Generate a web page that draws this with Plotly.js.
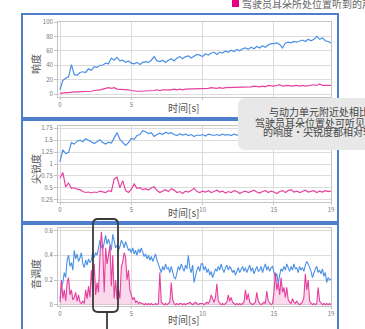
<!DOCTYPE html>
<html><head><meta charset="utf-8">
<script src="https://cdn.plot.ly/plotly-3.0.1.min.js"></script>
<style>html,body{margin:0;padding:0;background:#fff;overflow:hidden}#c{width:365px;height:329px}</style>
</head><body><div id="c"></div>
<script>
// ---- data (time step 0.2 s for loudness / sharpness, 0.1 s for tonality) ----
const xTickVals = [0, 5, 10, 15, 19];
const xTickText = ["0", "5", "10", "15", "19"];
const xTickTextTop = ["0", "5", "", "", ""];   // top panel: 10/15/19 hidden under title and note box
const loudTicks = [0, 20, 40, 60, 80, 100];
const sharpTicks = [0.25, 0.5, 0.75, 1, 1.25, 1.5, 1.75];
const sharpTickText = ["0.25", "0.5", "0.75", "1", "1.25", "1.5", "1.75"];
const tonalTicks = [0, 0.2, 0.4, 0.6];
const tonalTickText = ["0", "0.2", "0.4", "0.6"];

const loudPowerUnit = [
  6, 19, 22, 24, 41,   27, 26, 30, 31, 30,   35, 33, 38, 37, 40,   40, 43, 42, 50, 47,
  51, 46, 47, 44, 46,  43, 42, 44, 41, 44,   45, 44, 47, 52, 46,   45, 47, 44, 47, 49,
  46, 50, 52, 49, 52,  53, 50, 52, 55, 54,   52, 56, 54, 57, 58,   55, 58, 57, 60, 58,
  61, 59, 62, 60, 63,  64, 62, 65, 63, 66,   64, 67, 65, 68, 70,   70, 71, 69, 64, 71,
  72, 71, 73, 72, 74,  75, 73, 76, 74, 76,   80, 76, 78, 74, 73,   71];
const loudDriverEar = [
  1, 2, 2, 2, 3,   3, 3, 3, 4, 4,   4, 4, 5, 5, 6,   7, 8, 9, 8, 9,
  7, 7, 6, 6, 6,   5, 4, 4, 4, 4,   4, 4, 5, 5, 6,   5, 6, 6, 5, 6,
  7, 6, 7, 6, 7,   7, 7, 8, 7, 8,   7, 8, 8, 9, 8,   8, 9, 8, 9, 9,
  9, 10, 9, 9, 10, 10, 9, 10, 11, 10, 10, 11, 10, 12, 11, 11, 12, 13, 11, 12,
  12, 11, 12, 12, 11, 12, 11, 12, 12, 13, 12, 14, 12, 12, 13, 12];

const sharpPowerUnit = [
  1.05, 1.30, 1.22, 1.24, 1.45,  1.42, 1.48, 1.50, 1.47, 1.53,  1.50, 1.46, 1.43, 1.47, 1.51,
  1.45, 1.42, 1.46, 1.44, 1.55,  1.66, 1.52, 1.45, 1.39, 1.45,  1.54, 1.52, 1.60, 1.62, 1.70,
  1.68, 1.64, 1.66, 1.58, 1.62,  1.65, 1.62, 1.67, 1.64, 1.66,  1.62, 1.60, 1.64, 1.61, 1.63,
  1.60, 1.62, 1.58, 1.61, 1.60,  1.62, 1.59, 1.63, 1.61, 1.60,  1.62, 1.60, 1.63, 1.61, 1.62,
  1.60, 1.63, 1.61, 1.62, 1.60,  1.62, 1.61, 1.63, 1.60, 1.62,  1.64, 1.61, 1.63, 1.62, 1.65,
  1.63, 1.66, 1.64, 1.62, 1.65,  1.63, 1.66, 1.64, 1.67, 1.65,  1.68, 1.65, 1.67, 1.64, 1.66,
  1.68, 1.65, 1.67, 1.66, 1.64,  1.65];
const sharpDriverEar = [
  0.70, 0.82, 0.52, 0.60, 0.49,  0.50, 0.47, 0.46, 0.42, 0.40,  0.41, 0.39, 0.41, 0.40, 0.43,
  0.41, 0.40, 0.44, 0.42, 0.68,  0.72, 0.50, 0.65, 0.44, 0.40,  0.47, 0.58, 0.49, 0.50, 0.46,
  0.48, 0.45, 0.50, 0.52, 0.44,  0.40, 0.43, 0.46, 0.42, 0.48,  0.45, 0.40, 0.42, 0.38, 0.43,
  0.41, 0.44, 0.49, 0.42, 0.40,  0.43, 0.41, 0.44, 0.40, 0.42,  0.45, 0.41, 0.43, 0.39, 0.42,
  0.40, 0.44, 0.42, 0.38, 0.41,  0.43, 0.40, 0.42, 0.45, 0.41,  0.39, 0.42, 0.44, 0.40, 0.43,
  0.41, 0.38, 0.42, 0.44, 0.40,  0.44, 0.46, 0.41, 0.43, 0.40,  0.42, 0.45, 0.41, 0.43, 0.44,
  0.40, 0.43, 0.41, 0.44, 0.42,  0.43];

const tonalPowerUnit = [
  0.05, 0.14, 0.18, 0.26, 0.22, 0.36, 0.40, 0.31, 0.34, 0.28,
  0.44, 0.37, 0.41, 0.35, 0.38, 0.42, 0.33, 0.30, 0.36, 0.32,
  0.37, 0.34, 0.36, 0.43, 0.38, 0.42, 0.40, 0.46, 0.52, 0.47,
  0.45, 0.50, 0.56, 0.49, 0.53, 0.49, 0.44, 0.57, 0.51, 0.46,
  0.48, 0.44, 0.47, 0.52, 0.50, 0.46, 0.51, 0.48, 0.44, 0.45,
  0.42, 0.46, 0.41, 0.44, 0.40, 0.45, 0.42, 0.46, 0.43, 0.39,
  0.41, 0.37, 0.40, 0.36, 0.39, 0.35, 0.38, 0.41, 0.36, 0.33,
  0.30, 0.26, 0.31, 0.28, 0.33, 0.29, 0.30, 0.26, 0.31, 0.27,
  0.22, 0.21, 0.27, 0.31, 0.28, 0.33, 0.30, 0.27, 0.32, 0.29,
  0.40, 0.30, 0.26, 0.32, 0.18, 0.24, 0.28, 0.31, 0.27, 0.33,
  0.33, 0.28, 0.31, 0.26, 0.29, 0.24, 0.27, 0.22, 0.26, 0.29,
  0.27, 0.31, 0.28, 0.33, 0.29, 0.26, 0.30, 0.32, 0.28, 0.31,
  0.29, 0.26, 0.28, 0.24, 0.27, 0.30, 0.26, 0.29, 0.31, 0.27,
  0.30, 0.26, 0.29, 0.32, 0.27, 0.30, 0.25, 0.28, 0.31, 0.27,
  0.28, 0.31, 0.26, 0.30, 0.33, 0.28, 0.31, 0.27, 0.30, 0.31,
  0.27, 0.22, 0.25, 0.17, 0.24, 0.29, 0.27, 0.31, 0.28, 0.33,
  0.30, 0.27, 0.31, 0.28, 0.33, 0.29, 0.30, 0.26, 0.31, 0.28,
  0.30, 0.27, 0.32, 0.35, 0.33, 0.30, 0.27, 0.22, 0.26, 0.29,
  0.31, 0.26, 0.28, 0.25, 0.29, 0.23, 0.26, 0.18, 0.22, 0.20,
  0.21];
const tonalDriverEar = [
  0.02, 0.20, 0.05, 0.12, 0.03, 0.18, 0.22, 0.08, 0.12, 0.04,
  0.06, 0.10, 0.03, 0.08, 0.02, 0.01, 0.03, 0.01, 0.12, 0.05,
  0.15, 0.06, 0.28, 0.12, 0.33, 0.08, 0.18, 0.10, 0.40, 0.59,
  0.45, 0.10, 0.46, 0.33, 0.40, 0.48, 0.15, 0.40, 0.05, 0.20,
  0.04, 0.12, 0.05, 0.30, 0.35, 0.42, 0.38, 0.20, 0.28, 0.12,
  0.08, 0.04, 0.06, 0.02, 0.03, 0.01, 0.02, 0.01, 0.01, 0.00,
  0.01, 0.00, 0.01, 0.00, 0.01, 0.00, 0.00, 0.01, 0.00, 0.01,
  0.26, 0.02, 0.01, 0.00, 0.01, 0.00, 0.01, 0.02, 0.18, 0.04,
  0.01, 0.00, 0.01, 0.00, 0.01, 0.01, 0.00, 0.01, 0.00, 0.01,
  0.01, 0.02, 0.01, 0.00, 0.01, 0.02, 0.01, 0.00, 0.01, 0.01,
  0.01, 0.00, 0.01, 0.02, 0.01, 0.03, 0.08, 0.04, 0.02, 0.06,
  0.17, 0.03, 0.01, 0.00, 0.01, 0.00, 0.01, 0.02, 0.08, 0.03,
  0.06, 0.02, 0.01, 0.00, 0.01, 0.00, 0.01, 0.00, 0.01, 0.02,
  0.12, 0.04, 0.09, 0.02, 0.01, 0.00, 0.01, 0.02, 0.10, 0.03,
  0.01, 0.00, 0.01, 0.02, 0.01, 0.11, 0.03, 0.01, 0.00, 0.01,
  0.10, 0.26, 0.12, 0.18, 0.08, 0.22, 0.10, 0.14, 0.06, 0.14,
  0.04, 0.02, 0.01, 0.05, 0.02, 0.01, 0.03, 0.01, 0.00, 0.01,
  0.02, 0.06, 0.25, 0.12, 0.20, 0.03, 0.01, 0.00, 0.01, 0.00,
  0.01, 0.14, 0.03, 0.01, 0.00, 0.01, 0.00, 0.01, 0.00, 0.01,
  0.00];

const timeTitle = "时间[s]";
const yTitles = ["响度", "尖锐度", "音调度"];
const legendText = "驾驶员耳朵所处位置听到的声";
const noteLines = ["与动力单元附近处相比", "驾驶员耳朵位置处可听见的", "的响度・尖锐度都相对较"];

// ---- build ----
const W = 365, H = 329;
const PX = x => x / W, PY = y => 1 - y / H;
const timeAxis = (arr, step) => arr.map((_, i) => Math.round(i * step * 10) / 10);
const BLUE = '#4a90e6', PINK = '#e6409e';

const traces = [
  {x: timeAxis(loudPowerUnit, 0.2), y: loudPowerUnit, xaxis: 'x', yaxis: 'y', mode: 'lines', line: {color: BLUE, width: 1.2}},
  {x: timeAxis(loudDriverEar, 0.2), y: loudDriverEar, xaxis: 'x', yaxis: 'y', mode: 'lines', line: {color: PINK, width: 1.2}},
  {x: timeAxis(sharpPowerUnit, 0.2), y: sharpPowerUnit, xaxis: 'x2', yaxis: 'y2', mode: 'lines', line: {color: BLUE, width: 1.2}},
  {x: timeAxis(sharpDriverEar, 0.2), y: sharpDriverEar, xaxis: 'x2', yaxis: 'y2', mode: 'lines', line: {color: PINK, width: 1.2}},
  {x: timeAxis(tonalPowerUnit, 0.1), y: tonalPowerUnit, xaxis: 'x3', yaxis: 'y3', mode: 'lines', line: {color: BLUE, width: 1.1}},
  {x: timeAxis(tonalDriverEar, 0.1), y: tonalDriverEar, xaxis: 'x3', yaxis: 'y3', mode: 'lines', line: {color: PINK, width: 1.1},
   fill: 'tozeroy', fillcolor: 'rgba(230,64,158,0.2)'}
];

const xDom = [PX(58), PX(331)];
const xBase = {domain: xDom, range: [-0.14, 19], tickvals: xTickVals, ticktext: xTickText,
  showgrid: true, gridcolor: '#dcdcdc', gridwidth: 1, zeroline: false,
  showline: true, mirror: true, linecolor: '#c4c4c4', linewidth: 1,
  ticks: 'outside', ticklen: 2, tickcolor: '#c4c4c4', tickfont: {size: 6, color: '#777'}, fixedrange: true};
const yBase = {showgrid: true, gridcolor: '#dcdcdc', gridwidth: 1, zeroline: false,
  showline: true, mirror: true, linecolor: '#c4c4c4', linewidth: 1,
  ticks: 'outside', ticklen: 3, tickcolor: '#c4c4c4', tickfont: {size: 6, color: '#777'}, fixedrange: true};

function rr(x0, y0, x1, y1, r) {
  const P = (x, y) => PX(x) + ',' + PY(y);
  return 'M' + P(x0 + r, y0) + ' L' + P(x1 - r, y0) + ' Q' + P(x1, y0) + ' ' + P(x1, y0 + r) +
    ' L' + P(x1, y1 - r) + ' Q' + P(x1, y1) + ' ' + P(x1 - r, y1) +
    ' L' + P(x0 + r, y1) + ' Q' + P(x0, y1) + ' ' + P(x0, y1 - r) +
    ' L' + P(x0, y0 + r) + ' Q' + P(x0, y0) + ' ' + P(x0 + r, y0) + ' Z';
}
const box = (y0, y1) => ({type: 'rect', xref: 'paper', yref: 'paper', x0: PX(22), x1: PX(338), y0: PY(y1), y1: PY(y0),
  line: {color: '#4d7fcc', width: 2}});

const shapes = [
  box(14, 118), box(120, 222), box(224, 345),
  {type: 'rect', xref: 'paper', yref: 'paper', x0: PX(232), x1: PX(239), y0: PY(7), y1: PY(-2), fillcolor: '#e4007f', line: {width: 0}},
  {type: 'path', xref: 'paper', yref: 'paper', path: rr(238, 98, 380, 150, 8), fillcolor: '#e8e8e8', line: {width: 0}},
  {type: 'path', xref: 'paper', yref: 'paper', path: rr(93, 219, 118, 312, 5), line: {color: '#3a3a3a', width: 1.8}},
  {type: 'line', xref: 'paper', yref: 'paper', x0: PX(107), x1: PX(107), y0: PY(312), y1: PY(335), line: {color: '#3a3a3a', width: 1.8}}
];

const ann = (text, x, y, opts) => Object.assign({text, x: PX(x), y: PY(y), xref: 'paper', yref: 'paper', showarrow: false,
  xanchor: 'center', yanchor: 'middle', borderpad: 0, font: {size: 10, color: '#555'}}, opts || {});
const annotations = [
  ann(timeTitle, 183, 108), ann(timeTitle, 183, 212), ann(timeTitle, 183, 319),
  ann(yTitles[0], 35, 64, {textangle: -90}),
  ann(yTitles[1], 35, 169, {textangle: -90}),
  ann(yTitles[2], 35, 274, {textangle: -90}),
  ann(legendText, 241, 3, {xanchor: 'left', font: {size: 10, color: '#666'}}),
  ann(noteLines[0], 268, 111.5, {xanchor: 'left', font: {size: 10, color: '#444'}}),
  ann(noteLines[1], 254, 122, {xanchor: 'left', font: {size: 10, color: '#444'}}),
  ann(noteLines[2], 262, 132, {xanchor: 'left', font: {size: 10, color: '#444'}})
];

const layout = {
  width: W, height: H, margin: {l: 0, r: 0, t: 0, b: 0}, showlegend: false,
  paper_bgcolor: '#fff', plot_bgcolor: '#fff',
  font: {family: '"Noto Sans CJK SC", "Liberation Sans", sans-serif', color: '#555'},
  xaxis: Object.assign({}, xBase, {anchor: 'y', ticktext: xTickTextTop}),
  xaxis2: Object.assign({}, xBase, {anchor: 'y2'}),
  xaxis3: Object.assign({}, xBase, {anchor: 'y3'}),
  yaxis: Object.assign({}, yBase, {domain: [PY(97), PY(22)], range: [-4, 100], tickvals: loudTicks, anchor: 'x'}),
  yaxis2: Object.assign({}, yBase, {domain: [PY(202), PY(126)], range: [0.2, 1.8], tickvals: sharpTicks, ticktext: sharpTickText, anchor: 'x2'}),
  yaxis3: Object.assign({}, yBase, {domain: [PY(306), PY(228)], range: [-0.01, 0.62], tickvals: tonalTicks, ticktext: tonalTickText, anchor: 'x3'}),
  shapes, annotations
};
Plotly.newPlot('c', traces, layout, {staticPlot: true, displayModeBar: false});
</script></body></html>
